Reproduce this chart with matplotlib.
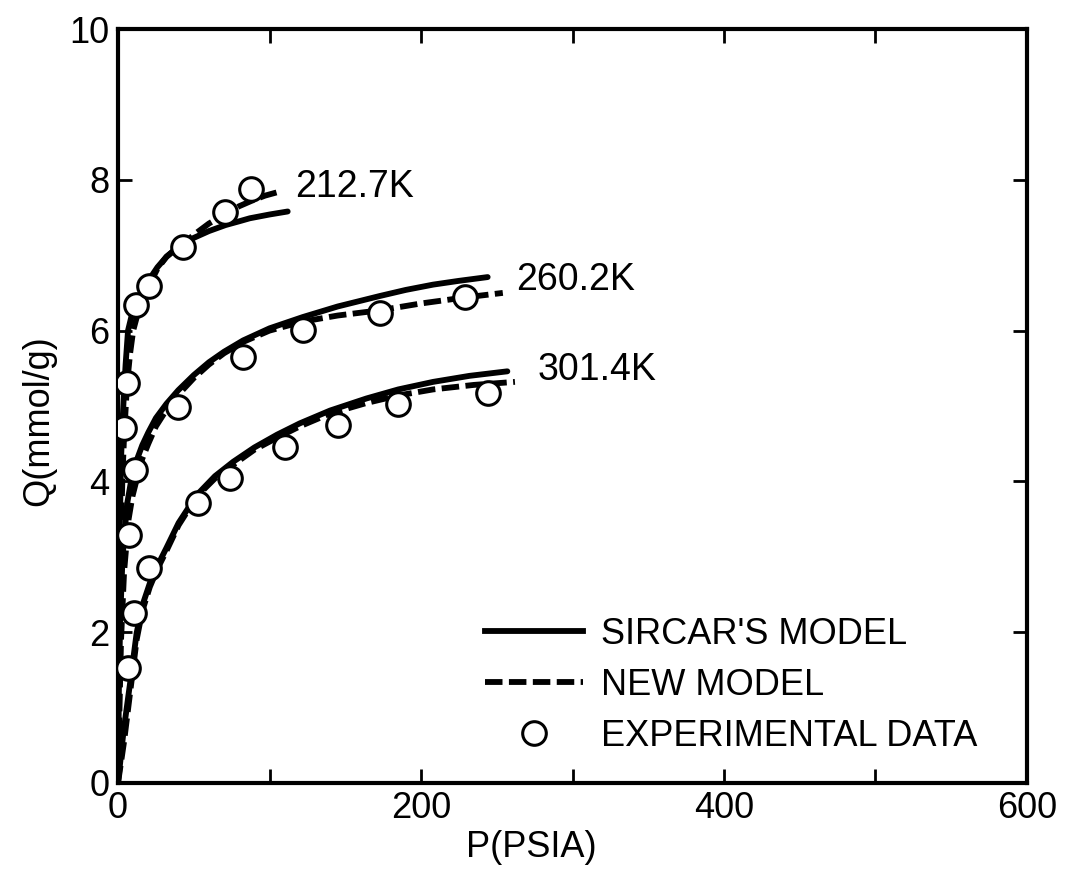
import matplotlib
matplotlib.use("Agg")
import matplotlib.pyplot as plt
from matplotlib.lines import Line2D

plt.rcParams['font.family'] = ['Liberation Sans', 'DejaVu Sans']

# experimental data (P in psia, Q in mmol/g)
p_2127 = [3.9, 5.9, 11.9, 20.5, 42.9, 70.6, 87.8]
q_2127 = [4.71, 5.30, 6.34, 6.59, 7.11, 7.57, 7.88]
p_2602 = [7.3, 11.2, 39.8, 82.5, 122, 173, 229]
q_2602 = [3.29, 4.15, 4.99, 5.65, 6.01, 6.23, 6.45]
p_3014 = [6.4, 10.6, 20.5, 53, 74, 110, 145, 185, 244]
q_3014 = [1.53, 2.25, 2.85, 3.71, 4.05, 4.46, 4.75, 5.03, 5.17]

# Sircar's model curves
sp_2127 = [0, 0.3, 1, 2, 3, 4, 5, 6.6, 9, 12, 16, 21, 26, 32, 38, 43, 50, 60, 71, 80, 87, 100, 112]
sq_2127 = [0, 1.6, 3.2, 4.3, 4.8, 5.2, 5.55, 6.0, 6.2, 6.35, 6.52, 6.69, 6.84, 6.98, 7.08, 7.15,
           7.23, 7.32, 7.40, 7.45, 7.49, 7.54, 7.58]
sp_2602 = [0, 0.5, 1.5, 3, 6, 9, 12.3, 16, 20, 25, 32, 39.8, 50, 60, 70, 82.6, 100, 122, 145,
           173, 190, 208, 225, 244]
sq_2602 = [0, 1.2, 2.2, 3.0, 3.7, 4.05, 4.28, 4.48, 4.65, 4.84, 5.03, 5.21, 5.41, 5.58, 5.72,
           5.87, 6.03, 6.18, 6.32, 6.46, 6.54, 6.61, 6.66, 6.71]
sp_3014 = [0, 3.5, 8, 12.3, 16, 21, 26, 32, 40, 52, 64, 76, 90, 105, 120, 140, 164, 185, 208,
           232, 257]
sq_3014 = [0, 0.66, 1.33, 1.99, 2.35, 2.65, 2.88, 3.12, 3.45, 3.82, 4.07, 4.26, 4.45, 4.62,
           4.77, 4.94, 5.1, 5.22, 5.32, 5.40, 5.46]

# new model curves
np_2127 = [0, 0.5, 1, 2, 3, 4, 6, 8, 10, 14, 21, 26, 32, 38, 43, 50, 60, 71, 80, 88, 97, 106]
nq_2127 = [0, 1.0, 2.0, 3.4, 4.1, 4.6, 5.3, 5.7, 6.0, 6.3, 6.62, 6.82, 6.98, 7.08, 7.15, 7.27,
           7.42, 7.55, 7.65, 7.72, 7.79, 7.84]
np_2602 = [0, 1, 2, 4, 7, 9.5, 12, 16, 20, 25, 32, 39.8, 50, 60, 70, 82.6, 100, 122, 145, 173,
           200, 229, 254]
nq_2602 = [0, 1.0, 1.9, 2.8, 3.5, 3.8, 4.0, 4.3, 4.5, 4.73, 4.95, 5.15, 5.37, 5.55, 5.7, 5.85,
           6.0, 6.12, 6.2, 6.27, 6.36, 6.44, 6.50]
np_3014 = [0, 4, 8, 12.3, 16, 21, 26, 32, 40, 52, 64, 76, 90, 105, 120, 140, 164, 185, 208,
           235, 262]
nq_3014 = [0, 0.55, 1.2, 1.9, 2.28, 2.6, 2.84, 3.08, 3.42, 3.8, 4.04, 4.22, 4.42, 4.58, 4.73,
           4.9, 5.04, 5.14, 5.22, 5.28, 5.32]

temps = ["212.7K", "260.2K", "301.4K"]
label_pos = [(117, 7.9), (263, 6.67), (277, 5.48)]

fig = plt.figure(figsize=(10.69, 8.77), dpi=100)
ax = fig.add_axes([0.1104, 0.1072, 0.8503, 0.8597])

lw = 4.2
dash = (0, (3.0, 1.1))
for sp, sq in [(sp_2127, sq_2127), (sp_2602, sq_2602), (sp_3014, sq_3014)]:
    ax.plot(sp, sq, color='black', lw=lw, solid_capstyle='round', solid_joinstyle='round')
for npp, nq in [(np_2127, nq_2127), (np_2602, nq_2602), (np_3014, nq_3014)]:
    ax.plot(npp, nq, color='black', lw=lw, linestyle=dash, dash_joinstyle='round')
for p, q in [(p_2127, q_2127), (p_2602, q_2602), (p_3014, q_3014)]:
    ax.plot(p, q, 'o', ms=17, mfc='white', mec='black', mew=2.2, zorder=5)

for t, (x, y) in zip(temps, label_pos):
    ax.text(x, y, t, fontsize=27, va='center', ha='left')

ax.set_xlim(0, 600)
ax.set_ylim(0, 10)
ax.set_xticks([0, 200, 400, 600])
ax.set_xticks([100, 300, 500], minor=True)
ax.set_yticks([0, 2, 4, 6, 8, 10])
ax.tick_params(which='both', direction='in', top=True, right=True,
               length=10, width=2, labelsize=26, pad=6)
for s in ax.spines.values():
    s.set_linewidth(3)

ax.set_xlabel("P(PSIA)", fontsize=26)
ax.set_ylabel("Q(mmol/g)", fontsize=26)
ax.xaxis.set_label_coords(0.455, -0.062)
ax.yaxis.set_label_coords(-0.068, 0.48)

handles = [
    Line2D([], [], color='black', lw=lw),
    Line2D([], [], color='black', lw=lw, linestyle=dash),
    Line2D([], [], marker='o', ls='none', ms=17, mfc='white', mec='black', mew=2.2),
]
ax.legend(handles, ["SIRCAR'S MODEL", "NEW MODEL", "EXPERIMENTAL DATA"],
          loc='lower left', bbox_to_anchor=(0.372, 0.0), frameon=False,
          fontsize=26, handlelength=2.7, handletextpad=0.5, labelspacing=0.45,
          borderpad=0.3)

fig.savefig("out.png", dpi=100)
